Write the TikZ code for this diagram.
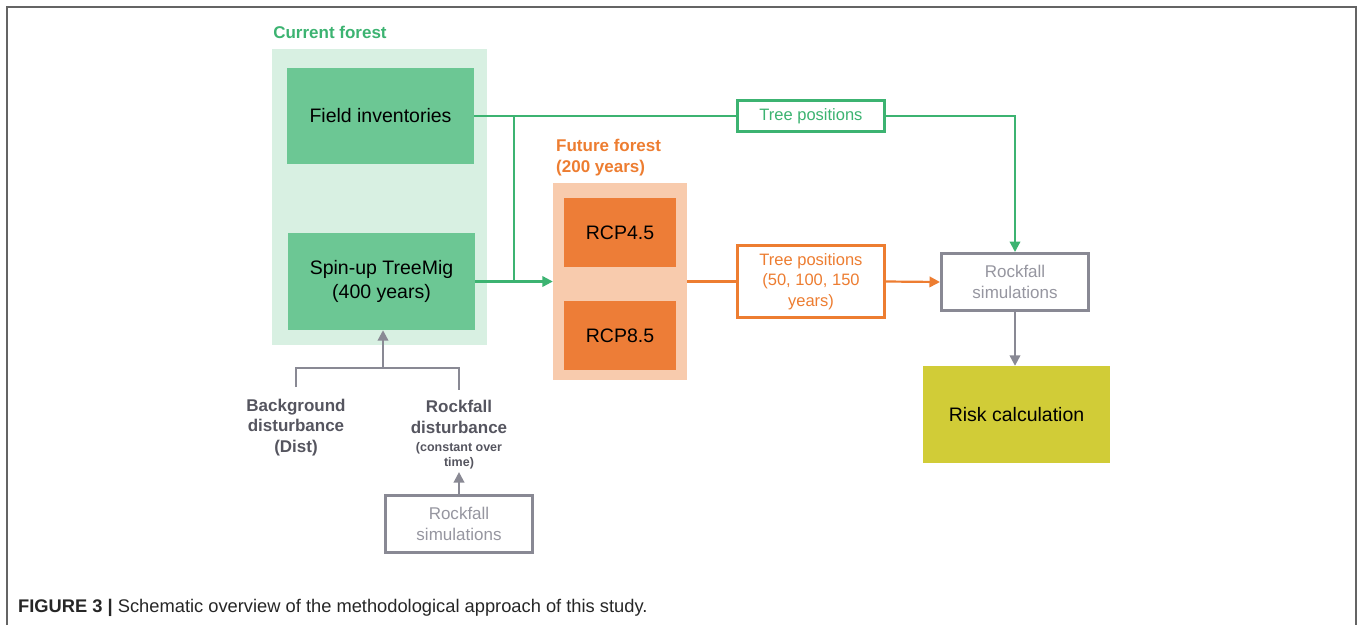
\documentclass[tikz,border=0pt]{standalone}
\usepackage{fontspec}
\setmainfont{Liberation Sans}
\usetikzlibrary{arrows.meta}
\definecolor{cgreen}{RGB}{60,179,113}
\definecolor{lgreen}{RGB}{216,240,226}
\definecolor{mgreen}{RGB}{108,199,148}
\definecolor{corange}{RGB}{237,125,49}
\definecolor{peach}{RGB}{248,203,173}
\definecolor{borange}{RGB}{237,125,55}
\definecolor{cgray}{RGB}{137,137,148}
\definecolor{tgray}{RGB}{150,150,160}
\definecolor{dgray}{RGB}{85,85,95}
\definecolor{olive}{RGB}{209,204,55}
\definecolor{framec}{RGB}{100,100,100}
\tikzset{
  bg/.style={rectangle, fill=#1, draw=none, inner sep=0pt},
  filled/.style={rectangle, fill=#1, draw=none, inner sep=0pt, align=center, text=black, font=\fontsize{19.5}{24}\selectfont},
  outl/.style={rectangle, draw=#1, line width=3pt, fill=white, inner sep=0pt, align=center, font=\fontsize{16.5}{20.5}\selectfont},
  conn/.style={draw=#1, line width=2.2pt},
  arr/.style={draw=#1, line width=2.2pt, -{Triangle[length=10.5pt,width=10.5pt]}},
}
\begin{document}
\begin{tikzpicture}[x=1pt,y=-1pt]
\useasboundingbox (0,0) rectangle (1357,625);
\draw[framec, line width=1.8pt] (7,625) -- (7,7) -- (1356,7) -- (1356,625);

% backgrounds
\node[bg=lgreen, minimum width=215, minimum height=296] (cfbg) at (379.5,197) {};
\node[bg=peach, minimum width=134, minimum height=197] (ffbg) at (620,281.5) {};

% labels
\node[text=cgreen, font=\bfseries\fontsize{17}{20}\selectfont] (cflab) at (330,32) {Current forest};
\node[text=corange, font=\bfseries\fontsize{17}{21}\selectfont, align=left, anchor=north west, inner sep=0pt] (fflab) at (556,139) {Future forest\\(200 years)};

% boxes
\node[filled=mgreen, minimum width=187, minimum height=96] (field) at (380.5,116) {Field inventories};
\node[filled=mgreen, minimum width=187, minimum height=97] (spin) at (381.5,281.5) {Spin-up TreeMig\\(400 years)};
\node[filled=borange, minimum width=112, minimum height=69] (rcp45) at (620,232.5) {RCP4.5};
\node[filled=borange, minimum width=112, minimum height=69] (rcp85) at (620,335.5) {RCP8.5};
\node[outl=cgreen, text=cgreen, minimum width=147, minimum height=31] (tpg) at (811,116) {Tree positions};
\node[outl=corange, text=corange, minimum width=147, minimum height=72] (tpo) at (811,281.5) {Tree positions\\(50, 100, 150\\years)};
\node[outl=cgray, text=tgray, minimum width=147, minimum height=57, font=\fontsize{17}{21}\selectfont] (rsR) at (1015,282) {Rockfall\\simulations};
\node[filled=olive, minimum width=187, minimum height=97] (risk) at (1016.5,414.5) {Risk calculation};
\node[outl=cgray, text=tgray, minimum width=147, minimum height=57, font=\fontsize{17}{21}\selectfont] (rsB) at (459,524) {Rockfall\\simulations};

% disturbance texts
\node[text=dgray, font=\bfseries\fontsize{17}{20.5}\selectfont, align=center, inner sep=0pt] (bgd) at (296,427.5) {Background\\disturbance\\(Dist)};
\node[text=dgray, font=\bfseries\fontsize{17}{20.5}\selectfont, align=center, inner sep=0pt] (rd) at (459,417) {Rockfall\\disturbance};
\node[text=dgray, font=\bfseries\fontsize{12.5}{15}\selectfont, align=center, inner sep=0pt, anchor=north] (rdsub) at (459,442) {(constant over\\time)};

% connectors
\coordinate (br) at (514,116);
\coordinate (tr) at (1015,116);
\coordinate (j) at (383,368);
\coordinate (bgtop) at (296,387);
\coordinate (rdtop) at (459,390);
\draw[conn=cgreen] (field.east) -- (tpg.west);
\draw[conn=cgreen] (br) -- (br |- spin.east);
\draw[arr=cgreen] (spin.east) -- (ffbg.west);
\draw[arr=cgreen] (tpg.east) -- (tr) -- (rsR.north);
\draw[conn=corange] (ffbg.east) -- (tpo.west);
\draw[arr=corange] (tpo.east) -- (rsR.west);
\draw[arr=cgray] (rsR.south) -- (rsR.south |- risk.north);
\draw[conn=cgray] (bgtop) -- (bgtop |- j) -- (rdtop |- j) -- (rdtop);
\draw[arr=cgray] (j) -- (spin.south -| j);
\draw[arr=cgray] (rsB.north) -- ([yshift=-3pt]rdsub.south);

% caption
\node[anchor=base west, inner sep=0pt, font=\fontsize{18.3}{20}\selectfont, text=black!85] (cap) at (18,612) {\textbf{FIGURE 3 |} Schematic overview of the methodological approach of this study.};
\end{tikzpicture}
\end{document}
